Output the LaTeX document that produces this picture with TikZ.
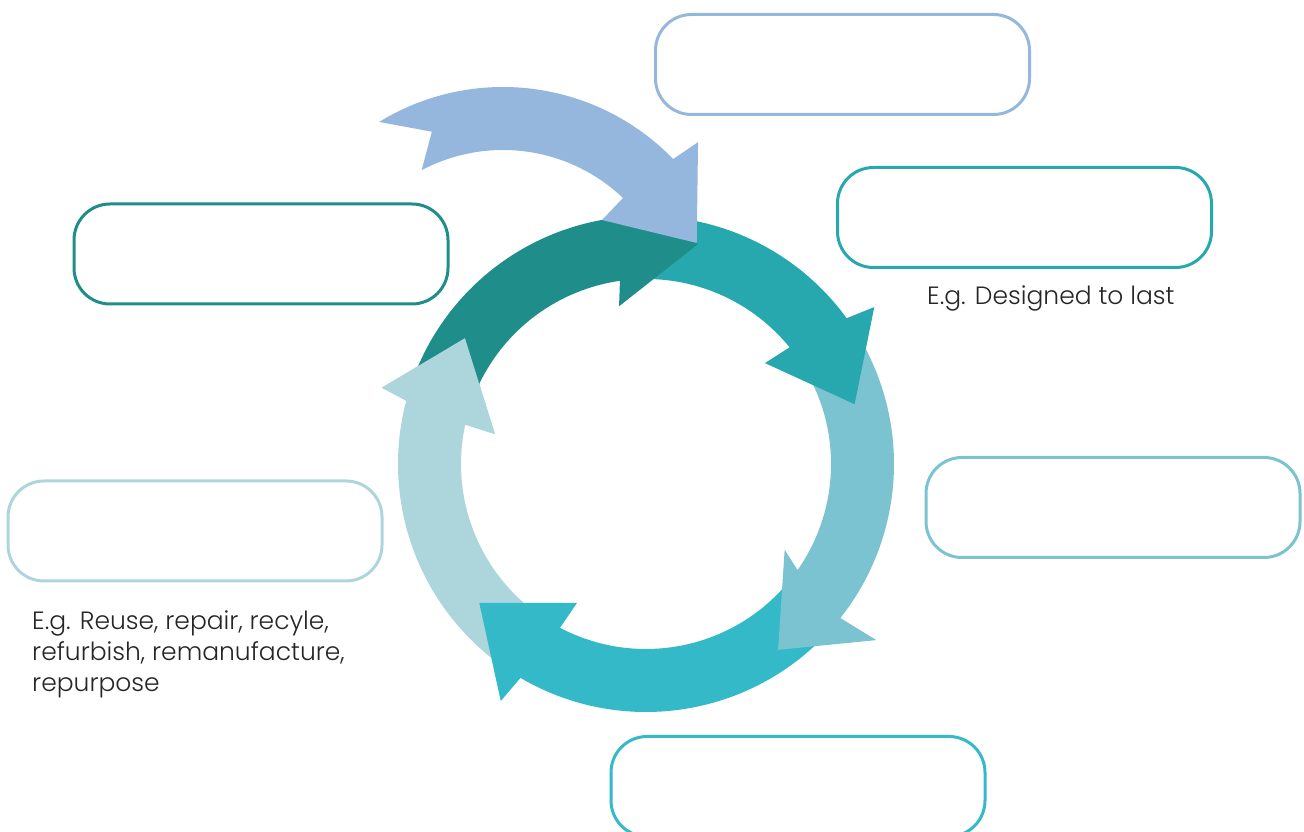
\documentclass[tikz,border=0pt]{standalone}
\usepackage{fontspec}
\setmainfont{Poppins Light}
\definecolor{cblue}{HTML}{95B7DD}
\definecolor{cdark}{HTML}{1F8E8B}
\definecolor{cteal}{HTML}{27A7AE}
\definecolor{cmid}{HTML}{7CC3D1}
\definecolor{ccyan}{HTML}{33B9C7}
\definecolor{clight}{HTML}{ADD5DC}
\definecolor{textgray}{HTML}{262626}
\begin{document}
\begin{tikzpicture}[x=1pt,y=1pt,
  box/.style={draw=#1, line width=3pt, rounded corners=36pt, minimum width=374pt, minimum height=100pt, inner sep=0pt},
  lbl/.style={anchor=base west, inner sep=0pt, font=\fontsize{25}{31}\selectfont, text=textgray, align=left}]
\useasboundingbox (0,0) rectangle (1304,832);
% boxes
\node[box=cblue]  (b1) at (842.5,767.5) {};
\node[box=cteal]  (b2) at (1024.5,614.5) {};
\node[box=cdark]  (b3) at (261,578) {};
\node[box=cmid]   (b4) at (1113,324.5) {};
\node[box=clight] (b5) at (195,301) {};
\node[box=ccyan]  (b6) at (798,45.5) {};
% texts
\node[lbl] (t1) at (927,527) {E.g. Designed to last};
\node[lbl] (t2) at (32,140) {E.g. Reuse, repair, recyle,\\refurbish, remanufacture,\\repurpose};
% ring arrows
\begin{scope}[shift={(646,368)}]
\fill[clight] (236:248) arc[start angle=236, end angle=165.2, radius=248] -- (163.9:275) -- (145.2:220.5) -- (168.8:154) -- (167.7:185) arc[start angle=167.7, end angle=236, radius=185] -- cycle;
\fill[ccyan] (-40:248) arc[start angle=-40, end angle=-120.4, radius=248] -- (-121.5:278) -- (-140.2:217) -- (-116.4:155) -- (-117.7:185) arc[start angle=-117.7, end angle=-40, radius=185] -- cycle;
\fill[cmid] (28:248) arc[start angle=28, end angle=-38.4, radius=248] -- (-37.4:290) -- (-54.6:228) -- (-31.7:163) -- (-35:185) arc[start angle=-35, end angle=28, radius=185] -- cycle;
\fill[cteal] (92:248) arc[start angle=92, end angle=36, radius=248] -- (34.5:277) -- (16:217) -- (40.3:156) -- (39.1:185) arc[start angle=39.1, end angle=92, radius=185] -- cycle;
\fill[cdark] (160:248) arc[start angle=160, end angle=95.5, radius=248] -- (94:277) -- (76.7:226) -- (99.7:160) -- (98.1:185) arc[start angle=98.1, end angle=160, radius=185] -- cycle;
\fill[clight] (165.2:248) -- (163.9:275) -- (145.2:220.5) -- (168.8:154) -- (167.7:185) -- cycle;
\end{scope}
% incoming arrow
\begin{scope}[shift={(503,508)}]
\fill[cblue] (121.5:237) arc[start angle=121.5, end angle=44.1, radius=237] -- (43:266.7) -- (22.7:210) -- (46.4:143.6) -- (46.4:174) arc[start angle=46.4, end angle=117.9, radius=174] -- (110.3:205) -- cycle;
\end{scope}
\end{tikzpicture}
\end{document}
